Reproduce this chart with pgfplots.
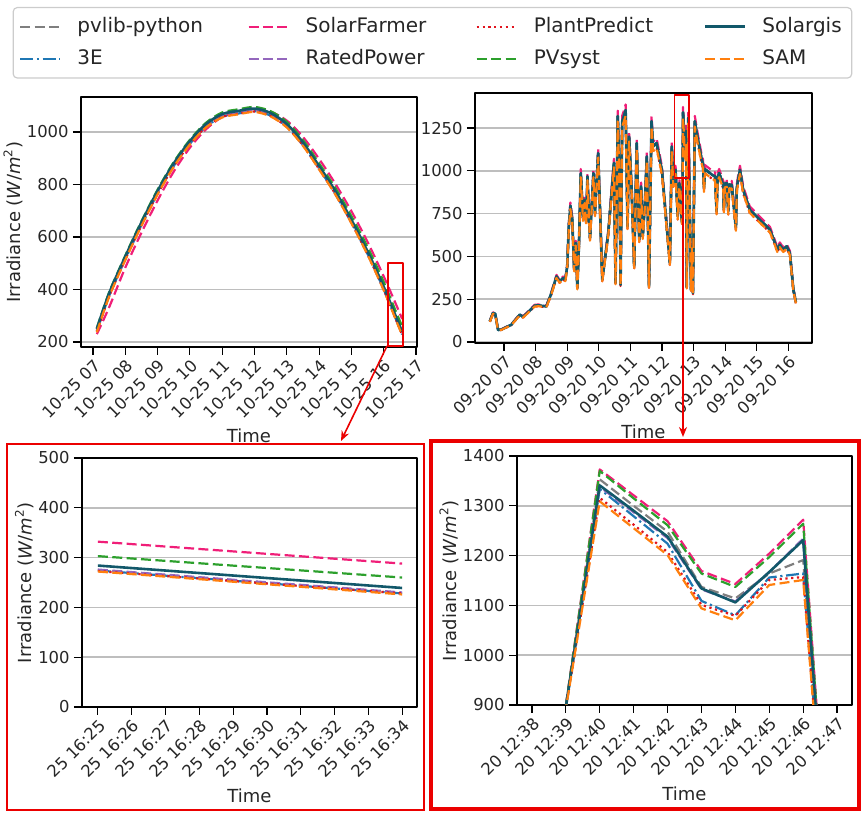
\documentclass[border=0pt]{standalone}
\usepackage{fontspec}
\setmainfont{DejaVu Sans}
\usepackage{pgfplots}
\pgfplotsset{compat=1.18}
\usepackage{pgfplotstable}
\usetikzlibrary{arrows.meta}

\definecolor{cPV}{RGB}{127,127,127}
\definecolor{cTE}{RGB}{31,119,180}
\definecolor{cSF}{RGB}{240,30,120}
\definecolor{cRP}{RGB}{148,103,189}
\definecolor{cPP}{RGB}{225,20,30}
\definecolor{cPS}{RGB}{44,160,44}
\definecolor{cSG}{RGB}{18,88,106}
\definecolor{cSA}{RGB}{255,127,14}
\definecolor{txt}{RGB}{38,38,38}
\definecolor{gridc}{RGB}{190,190,190}
\definecolor{legc}{RGB}{204,204,204}
\definecolor{zoomred}{RGB}{235,0,0}

\tikzset{
  sPV/.style={cPV, line width=1.1pt, dash pattern=on 5pt off 2.2pt},
  sTE/.style={cTE, line width=1.1pt, dash pattern=on 6.5pt off 1.8pt on 1.1pt off 1.8pt},
  sSF/.style={cSF, line width=1.1pt, dash pattern=on 5pt off 2.2pt},
  sRP/.style={cRP, line width=1.1pt, dash pattern=on 5pt off 2.2pt},
  sPP/.style={cPP, line width=1.1pt, dash pattern=on 1.1pt off 1.8pt},
  sPS/.style={cPS, line width=1.1pt, dash pattern=on 5pt off 2.2pt},
  sSG/.style={cSG, line width=1.3pt, solid},
  sSA/.style={cSA, line width=1.1pt, dash pattern=on 5pt off 2.2pt},
}

\pgfplotsset{
  panel/.style={
    scale only axis,
    axis line style={black, line width=0.75pt},
    ymajorgrids,
    major grid style={gridc, line width=0.8pt},
    tick align=outside,
    tick pos=left,
    major tick length=4pt,
    every tick/.style={black, line width=0.6pt},
    tick label style={font=\fontsize{8.2}{9.5}\selectfont, color=txt},
    label style={font=\fontsize{9}{11}\selectfont, color=txt},
    xticklabel style={rotate=45, anchor=north east, inner sep=1pt},
    yticklabel style={inner sep=2pt},
    ylabel style={inner sep=0pt},
    /pgf/number format/1000 sep={},
    /pgf/number format/assume math mode=true,
    xlabel={Time},
    ylabel={Irradiance (\textit{W}/\textit{m}\textsuperscript{2})},
    line join=round,
  },
}

% Day 1 (clear sky), hourly decimal time
\pgfplotstableread{
t     pv   te   sf   rp   pp   ps   sg   sa
7.12  241  240  230  242  239  253  250  237
7.50  376  375  332  377  374  389  385  372
8.00  516  515  483  517  514  529  525  512
8.50  646  645  616  647  644  660  655  642
9.00  766  765  739  767  764  780  775  762
9.50  871  870  849  872  869  885  880  867
10.00 956  955  940  957  954  970  965  952
10.50 1021 1020 1010 1022 1019 1035 1030 1017
11.00 1059 1058 1057 1060 1057 1074 1068 1055
11.50 1071 1070 1076 1072 1069 1086 1080 1067
12.00 1080 1079 1086 1081 1078 1095 1089 1076
12.50 1063 1062 1077 1064 1061 1079 1072 1059
13.00 1021 1020 1043 1022 1019 1038 1030 1017
13.50 951  950  981  952  949  969  960  947
14.00 861  860  897  862  859  880  870  857
14.50 766  765  803  767  764  787  775  762
15.00 656  655  698  657  654  679  665  652
15.50 536  535  581  537  534  561  545  532
16.00 401  400  450  402  399  428  410  397
16.42 275  274  332  276  273  303  284  271
16.57 230  229  288  231  228  260  239  226
}\clearday

% Day 2 (broken clouds): reference, high and low model groups
\pgfplotstableread{
t      sg   hi   lo
6.55   121  124  118
6.65   169  173  165
6.72   165  169  161
6.81   70   72   68
6.91   72   74   70
7.23   101  103  99
7.50   160  164  156
7.60   146  150  142
7.97   212  217  207
8.08   214  219  209
8.34   208  213  203
8.50   286  293  279
8.66   383  392  374
8.76   354  362  346
8.87   374  383  365
8.94   364  373  355
9.00   442  453  431
9.05   676  692  660
9.10   796  815  777
9.16   714  731  697
9.22   422  432  412
9.27   578  592  564
9.32   315  323  307
9.37   559  572  546
9.43   987  1011 963
9.50   724  741  707
9.55   831  851  811
9.60   700  717  683
9.64   968  991  945
9.72   607  622  592
9.83   987  1011 963
9.88   753  771  735
9.98   1104 1130 1078
10.11  364  373  355
10.30  637  652  622
10.48  1046 1071 1021
10.53  345  353  337
10.60  1320 1352 1288
10.65  1006 1030 982
10.69  335  343  327
10.74  1290 1321 1259
10.81  1330 1362 1298
10.85  1355 1388 1322
10.91  676  692  660
10.96  1201 1230 1172
11.04  890  911  869
11.12  442  453  431
11.20  1162 1190 1134
11.28  598  612  584
11.34  910  932  888
11.39  617  632  602
11.46  812  831  793
11.52  1085 1111 1059
11.59  325  333  317
11.67  1290 1321 1259
11.72  1143 1170 1116
11.83  1162 1190 1134
12.00  1000 1024 976
12.25  461  472  450
12.31  1143 1170 1116
12.36  929  951  907
12.43  1006 1030 982
12.50  734  752  716
12.55  929  951  907
12.633 700  712  690
12.65  896  899  892
12.667 1341 1373 1309
12.683 1290 1321 1255
12.70  1238 1269 1201
12.717 1134 1169 1094
12.733 1106 1143 1070
12.75  1167 1204 1141
12.767 1231 1272 1151
12.783 320  328  312
12.833 1310 1341 1279
12.87  900  922  878
12.92  306  313  299
12.95  559  572  546
12.98  286  293  279
13.04  1290 1321 1259
13.12  1201 1230 1172
13.26  1065 1091 1039
13.30  1040 1065 1015
13.33  899  921  877
13.36  1010 1034 986
13.52  987  1011 963
13.60  975  998  952
13.68  968  991  945
13.73  763  781  745
13.76  960  983  937
13.81  987  1011 963
13.94  919  941  897
13.96  773  792  754
13.99  925  947  903
14.05  929  951  907
14.10  763  781  745
14.13  920  942  898
14.21  919  941  897
14.34  666  682  650
14.37  900  922  878
14.41  948  971  925
14.47  1006 1030 982
14.57  890  911  869
14.78  773  792  754
15.10  714  731  697
15.42  656  672  640
15.58  578  592  564
15.65  539  552  526
15.73  568  582  554
15.84  539  552  526
15.95  559  572  546
16.05  520  532  508
16.16  306  313  299
16.24  232  238  226
}\cloudday

% Day 1, 16:25 -- 16:34 (minutes after 16:25)
\pgfplotstableread{
m  pv  te  sf  rp  pp  ps  sg  sa
0  275 274 332 276 273 303 284 272
9  229 228 288 230 228 260 239 226
}\clearzoom

% Day 2, 12:38 -- 12:47 (minutes after 12:38)
\pgfplotstableread{
m  pv   te   sf   rp   pp   ps   sg   sa
0  705  700  712  700  695  710  700  690
1  897  894  899  895  893  898  896  892
2  1353 1334 1373 1338 1316 1370 1341 1309
3  1300 1279 1321 1287 1262 1315 1290 1255
4  1248 1224 1269 1235 1207 1261 1238 1201
5  1137 1109 1169 1132 1101 1164 1134 1094
6  1114 1080 1143 1108 1079 1137 1106 1070
7  1164 1156 1204 1167 1151 1197 1167 1141
8  1191 1164 1272 1234 1157 1264 1231 1151
9  322  318  328  320  315  326  320  312
}\cloudzoom

\begin{document}
\begin{tikzpicture}
\useasboundingbox (0,0) rectangle (432pt,407.5pt);

% ---- clear day, full ----
\begin{axis}[panel,
  at={(40.5pt,234pt)}, anchor=south west, width=168pt, height=125pt,
  xmin=6.63, xmax=17.03, ymin=181, ymax=1133,
  xtick={7,...,17},
  xticklabels={10-25 07,10-25 08,10-25 09,10-25 10,10-25 11,10-25 12,10-25 13,10-25 14,10-25 15,10-25 16,10-25 17},
  ytick={200,400,600,800,1000},
  legend columns=4,
  legend cell align=left,
  legend image code/.code={\draw[#1] (0pt,0pt) -- (20pt,0pt);},
  legend style={at={(1.046,1.36)}, anchor=north, draw=legc, line width=0.6pt,
    rounded corners=2pt, fill=white, inner xsep=3pt, inner ysep=3pt,
    font=\fontsize{10}{12}\selectfont, text=txt,
    nodes={inner sep=2pt},
    /tikz/every odd column/.append style={column sep=6pt},
    /tikz/every even column/.append style={column sep=0pt},
    row sep=3pt},
]
\addlegendimage{sPV}\addlegendentry{\makebox[83pt][l]{pvlib-python}}
\addlegendimage{sSF}\addlegendentry{\makebox[83pt][l]{SolarFarmer}}
\addlegendimage{sPP}\addlegendentry{\makebox[83pt][l]{PlantPredict}}
\addlegendimage{sSG}\addlegendentry{Solargis}
\addlegendimage{sTE}\addlegendentry{\makebox[83pt][l]{3E}}
\addlegendimage{sRP}\addlegendentry{\makebox[83pt][l]{RatedPower}}
\addlegendimage{sPS}\addlegendentry{\makebox[83pt][l]{PVsyst}}
\addlegendimage{sSA}\addlegendentry{SAM}

\addplot[sPV, smooth, forget plot] table[x=t, y=pv] {\clearday};
\addplot[sTE, smooth, forget plot] table[x=t, y=te] {\clearday};
\addplot[sSF, smooth, forget plot] table[x=t, y=sf] {\clearday};
\addplot[sRP, smooth, forget plot] table[x=t, y=rp] {\clearday};
\addplot[sPP, smooth, forget plot] table[x=t, y=pp] {\clearday};
\addplot[sPS, smooth, forget plot] table[x=t, y=ps] {\clearday};
\addplot[sSG, smooth, forget plot] table[x=t, y=sg] {\clearday};
\addplot[sSA, smooth, forget plot] table[x=t, y=sa] {\clearday};
\draw[zoomred, line width=0.75pt] (axis cs:16.13,185) rectangle (axis cs:16.60,501);
\end{axis}

% ---- cloudy day, full ----
\begin{axis}[panel,
  at={(237.5pt,236pt)}, anchor=south west, width=168.5pt, height=125pt,
  xmin=6.08, xmax=16.75, ymin=-6, ymax=1455,
  xtick={7,...,16},
  xticklabels={09-20 07,09-20 08,09-20 09,09-20 10,09-20 11,09-20 12,09-20 13,09-20 14,09-20 15,09-20 16},
  ytick={0,250,500,750,1000,1250},
  ylabel={},
]
\addplot[sPV] table[x=t, y=sg] {\cloudday};
\addplot[sTE] table[x=t, y=sg] {\cloudday};
\addplot[sSF] table[x=t, y=hi] {\cloudday};
\addplot[sRP] table[x=t, y=sg] {\cloudday};
\addplot[sPP] table[x=t, y=lo] {\cloudday};
\addplot[sPS] table[x=t, y=sg] {\cloudday};
\addplot[sSG] table[x=t, y=sg] {\cloudday};
\addplot[sSA] table[x=t, y=lo] {\cloudday};
\draw[zoomred, line width=0.75pt] (axis cs:12.39,958) rectangle (axis cs:12.86,1444);
\end{axis}

% ---- clear day, detail ----
\begin{axis}[panel,
  at={(41pt,54pt)}, anchor=south west, width=167.5pt, height=124.5pt,
  xmin=-0.47, xmax=9.44, ymin=0, ymax=500,
  xtick={0,...,9},
  xticklabels={25 16:25,25 16:26,25 16:27,25 16:28,25 16:29,25 16:30,25 16:31,25 16:32,25 16:33,25 16:34},
  ytick={0,100,200,300,400,500},
]
\addplot[sPV] table[x=m, y=pv] {\clearzoom};
\addplot[sTE] table[x=m, y=te] {\clearzoom};
\addplot[sSF] table[x=m, y=sf] {\clearzoom};
\addplot[sRP] table[x=m, y=rp] {\clearzoom};
\addplot[sPP] table[x=m, y=pp] {\clearzoom};
\addplot[sPS] table[x=m, y=ps] {\clearzoom};
\addplot[sSG] table[x=m, y=sg] {\clearzoom};
\addplot[sSA] table[x=m, y=sa] {\clearzoom};
\end{axis}

% ---- cloudy day, detail ----
\begin{axis}[panel,
  at={(258.5pt,55pt)}, anchor=south west, width=167.5pt, height=124.5pt,
  xmin=-0.44, xmax=9.44, ymin=900, ymax=1400,
  xtick={0,...,9},
  xticklabels={20 12:38,20 12:39,20 12:40,20 12:41,20 12:42,20 12:43,20 12:44,20 12:45,20 12:46,20 12:47},
  ytick={900,1000,1100,1200,1300,1400},
]
\addplot[sPV] table[x=m, y=pv] {\cloudzoom};
\addplot[sTE] table[x=m, y=te] {\cloudzoom};
\addplot[sSF] table[x=m, y=sf] {\cloudzoom};
\addplot[sRP] table[x=m, y=rp] {\cloudzoom};
\addplot[sPP] table[x=m, y=pp] {\cloudzoom};
\addplot[sPS] table[x=m, y=ps] {\cloudzoom};
\addplot[sSG] table[x=m, y=sg] {\cloudzoom};
\addplot[sSA] table[x=m, y=sa] {\cloudzoom};
\end{axis}

% frames and pointers for the detail views
\draw[zoomred, line width=1pt] (3.5pt,2.5pt) rectangle (212pt,185.5pt);
\draw[zoomred, line width=2pt] (215.5pt,3pt) rectangle (429.5pt,187pt);
\draw[zoomred, line width=0.8pt, -{Stealth[length=5pt,width=4pt]}] (193.5pt,234.5pt) -- (170.5pt,187pt);
\draw[zoomred, line width=0.8pt, -{Stealth[length=5pt,width=4pt]}] (341.5pt,318.5pt) -- (341.5pt,189pt);
\end{tikzpicture}
\end{document}
